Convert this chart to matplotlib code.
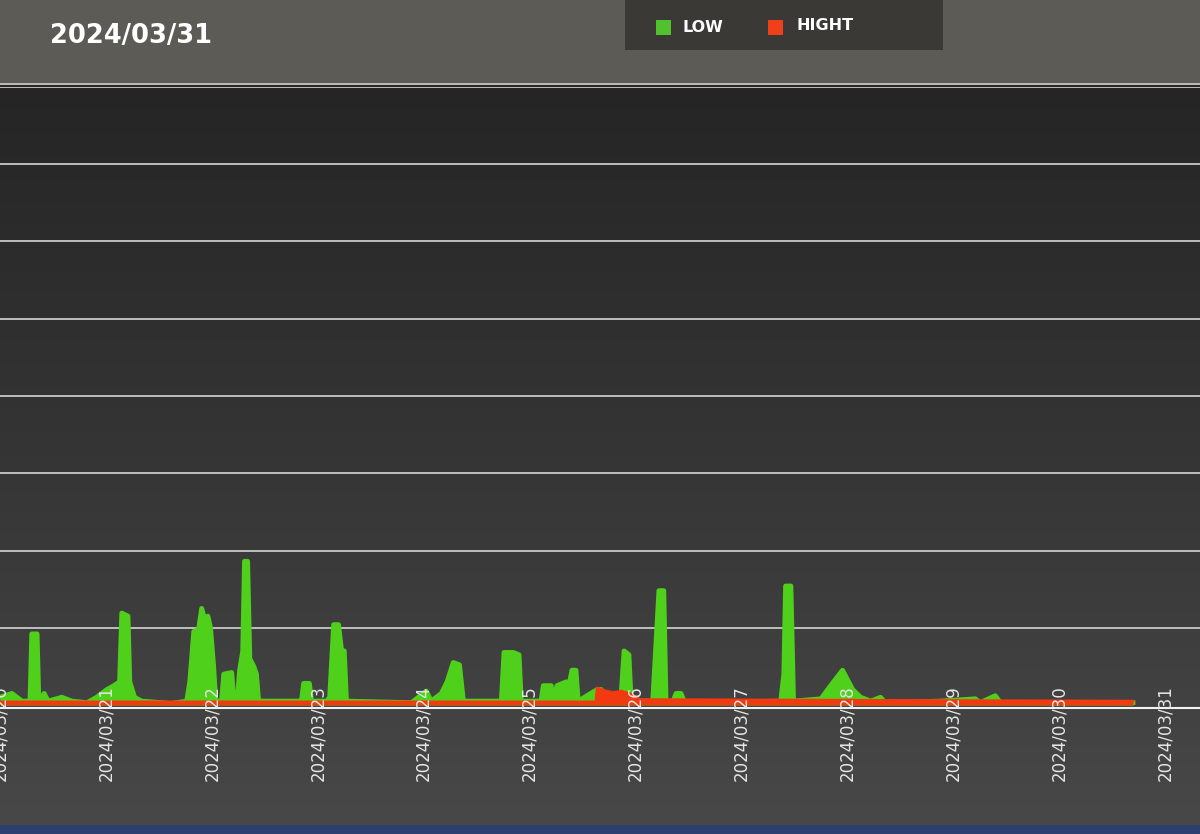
import numpy as np
import pandas as pd
import matplotlib
matplotlib.use("Agg")
import matplotlib.pyplot as plt
from matplotlib.patches import Rectangle
from matplotlib.colors import LinearSegmentedColormap

# ---- data (hours after 2024-03-20 00:00, values) ----
start = pd.Timestamp("2024-03-20 00:00")
low_hours = [0.0, 2.7, 5.0, 6.8, 7.2, 8.4, 8.8, 10.0, 10.9, 14.0, 16.3, 19.7, 21.9, 24.2, 25.8, 27.1,
             27.6, 29.0, 29.4, 30.5, 32.1, 38.9, 42.3, 43.0, 43.9, 45.0, 45.7, 46.4, 47.1, 47.7, 48.4,
             48.9, 50.2, 50.7, 52.5, 53.0, 53.8, 54.3, 55.0, 55.4, 56.1, 56.6, 57.5, 58.1, 58.6, 68.3,
             68.8, 70.1, 70.6, 74.0, 74.7, 75.6, 76.7, 77.4, 78.0, 78.5, 93.2, 96.6, 97.7, 100.0, 101.3,
             102.7, 104.1, 105.0, 113.6, 114.2, 116.3, 117.6, 118.1, 122.6, 123.1, 124.9, 125.3, 126.2,
             128.3, 128.9, 129.6, 130.5, 131.0, 135.3, 136.2, 137.3, 140.7, 141.4, 142.5, 143.0, 147.9,
             149.3, 150.4, 150.9, 152.5, 153.2, 154.3, 155.0, 158.8, 176.9, 177.6, 178.0, 179.2, 179.8,
             186.0, 188.2, 190.9, 193.2, 195.0, 197.3, 199.5, 200.6, 213.1, 221.0, 222.1, 225.5, 226.7,
             256.7]
low_values = [1.0, 1.5, 0.5, 0.5, 9.2, 9.2, 0.5, 1.5, 0.5, 1.0, 0.5, 0.3, 1.0, 2.0, 2.5, 3.0,
              11.9, 11.5, 3.0, 1.0, 0.5, 0.2, 0.5, 3.0, 9.5, 9.8, 12.5, 11.0, 11.5, 10.0, 5.0,
              0.5, 0.5, 4.0, 4.2, 0.5, 1.0, 4.5, 7.0, 18.6, 18.6, 6.0, 5.0, 4.0, 0.5, 0.5,
              2.8, 2.8, 0.5, 0.5, 1.0, 10.4, 10.4, 7.0, 7.0, 0.5, 0.3, 1.8, 0.5, 1.5, 3.0,
              5.5, 5.2, 0.5, 0.5, 6.8, 6.8, 6.5, 0.5, 0.5, 2.5, 2.5, 0.5, 2.5,
              3.0, 2.5, 4.5, 4.5, 0.5, 2.0, 2.0, 1.0, 1.0, 7.0, 6.5, 0.5, 0.5,
              14.8, 14.8, 0.5, 0.5, 1.5, 1.5, 0.5, 0.3, 0.5, 4.0, 15.4, 15.4, 0.5,
              0.8, 2.5, 4.5, 2.0, 1.0, 0.5, 1.0, 0.3, 0.5, 0.8, 0.3, 1.2, 0.3,
              0.3]
high_hours = [0.0, 135.0, 135.3, 137.3, 139.0, 140.7, 143.0, 145.0, 256.7]
high_values = [0.4, 0.4, 2.2, 1.8, 1.6, 1.8, 1.4, 0.7, 0.5]

tick_dates = ["2024/03/20", "2024/03/21", "2024/03/22", "2024/03/23", "2024/03/24", "2024/03/25",
              "2024/03/26", "2024/03/27", "2024/03/28", "2024/03/29", "2024/03/30", "2024/03/31"]
title_text = "2024/03/31"
legend_labels = ["LOW", "HIGHT"]

low_t = [start + pd.Timedelta(hours=h) for h in low_hours]
high_t = [start + pd.Timedelta(hours=h) for h in high_hours]
ticks = pd.to_datetime(tick_dates, format="%Y/%m/%d")

GREEN = "#4fd11c"
RED = "#f23a10"

fig = plt.figure(figsize=(12, 8.34), dpi=100)
fig.patch.set_facecolor("#2b2b2b")

# header band
fig.add_artist(Rectangle((0, 1 - 83 / 834), 1, 83 / 834, transform=fig.transFigure,
                         facecolor="#5c5b55", edgecolor="none", zorder=0))
fig.add_artist(Rectangle((0, 1 - 85 / 834), 1, 2 / 834, transform=fig.transFigure,
                         facecolor="#b9b9b2", edgecolor="none", zorder=1))
# legend box
fig.add_artist(Rectangle((625 / 1200, 1 - 50 / 834), 318 / 1200, 50 / 834, transform=fig.transFigure,
                         facecolor="#3a3936", edgecolor="none", zorder=1))
# bottom screen border
fig.add_artist(Rectangle((0, 0), 1, 9 / 834, transform=fig.transFigure,
                         facecolor="#2d3f70", edgecolor="none", zorder=1))

# background gradient panel
bg = fig.add_axes([0, 9 / 834, 1, 1 - 86 / 834 - 9 / 834], zorder=0)
grad = np.linspace(0, 1, 256).reshape(-1, 1)
cmap = LinearSegmentedColormap.from_list("bg", ["#252525", "#353535", "#484848"])
bg.imshow(grad, aspect="auto", cmap=cmap, extent=[0, 1, 1, 0])
bg.set_axis_off()

ax = fig.add_axes([0, 1 - 705 / 834, 1, (705 - 87) / 834], zorder=2)
ax.patch.set_alpha(0)

ax.set_ylim(0, 80)
for yv in np.arange(10, 81, 10):
    ax.axhline(yv, color="#c9c9c9", lw=1.3, zorder=1)

ax.fill_between(low_t, 0, low_values, color=GREEN, lw=0, zorder=3)
ax.plot(low_t, low_values, color=GREEN, lw=3.5, solid_joinstyle="round", zorder=3)
ax.fill_between(high_t, 0, high_values, color=RED, lw=0, zorder=4)
ax.plot(high_t, high_values, color=RED, lw=2.0, zorder=4)

ax.tick_params(axis="y", left=False, labelleft=False)
ax.set_yticks([])

left = start + pd.Timedelta(hours=0.45)
right = start + pd.Timedelta(hours=(1202) * 24 / 106.1)
ax.set_xlim(left, right)
ax.set_xticks(ticks)
ax.set_xticklabels(tick_dates, rotation=90, color="#e6e6e6", fontsize=12)
ax.tick_params(axis="x", length=0, pad=-14)
ax.xaxis.set_zorder(6)
for s in ax.spines.values():
    s.set_visible(False)
ax.axhline(-0.4, color="#f2f2f2", lw=1.5, zorder=5, clip_on=False)

# title
fig.text(50 / 1200, 1 - 36 / 834, title_text, color="white", fontsize=18.5,
         fontweight="bold", va="center", ha="left")
# legend
fig.add_artist(Rectangle((656 / 1200, 1 - 35 / 834), 15 / 1200, 15 / 834, transform=fig.transFigure,
                         facecolor="#4fc22e", edgecolor="none", zorder=2))
fig.text(682 / 1200, 1 - 27 / 834, legend_labels[0], color="white", fontsize=11.5,
         fontweight="bold", va="center", ha="left")
fig.add_artist(Rectangle((768 / 1200, 1 - 35 / 834), 15 / 1200, 15 / 834, transform=fig.transFigure,
                         facecolor="#f0401a", edgecolor="none", zorder=2))
fig.text(796 / 1200, 1 - 26 / 834, legend_labels[1], color="white", fontsize=11.5,
         fontweight="bold", va="center", ha="left")

fig.savefig("out.png", dpi=100)
